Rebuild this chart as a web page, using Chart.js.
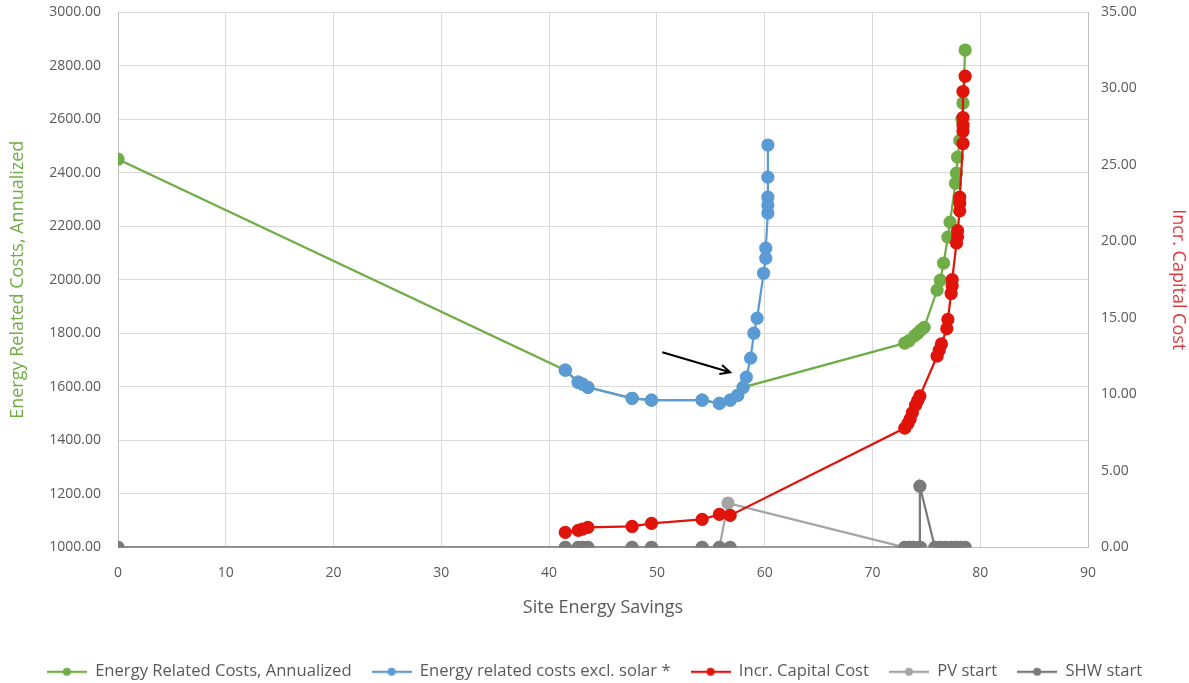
<!DOCTYPE html>
<html>
<head>
<meta charset="utf-8">
<script src="https://cdn.jsdelivr.net/npm/chart.js@4.4.1/dist/chart.umd.min.js"></script>
<style>
  html, body { margin: 0; padding: 0; background: #fff; }
  #wrap { width: 1189px; height: 683px; }
</style>
</head>
<body>
<div id="wrap"><canvas id="costChart"></canvas></div>
<script>
// Energy Related Costs, Annualized (left axis)
const greenX = [0, 41.5, 42.7, 43.1, 43.6, 47.7, 49.5, 54.2, 55.8, 56.8, 57.5, 58.0,
  73.0, 73.4, 73.9, 74.2, 74.5, 74.8, 76.0, 76.3, 76.6, 77.0, 77.2, 77.7, 77.8, 77.9, 78.1, 78.3, 78.4, 78.6];
const greenY = [2450, 1662, 1617, 1610, 1598, 1557, 1550, 1550, 1538, 1550, 1568, 1598,
  1763, 1772, 1790, 1800, 1812, 1822, 1961, 1998, 2062, 2159, 2215, 2360, 2398, 2458, 2520, 2600, 2660, 2858];

// Energy related costs excl. solar * (left axis)
const blueX = [41.5, 42.7, 43.1, 43.6, 47.7, 49.5, 54.2, 55.8, 56.8, 57.5, 58.0, 58.3, 58.7,
  59.0, 59.3, 59.9, 60.1, 60.1, 60.3, 60.3, 60.3, 60.3, 60.3];
const blueY = [1662, 1617, 1610, 1598, 1557, 1550, 1550, 1538, 1550, 1568, 1598, 1636, 1707,
  1800, 1856, 2024, 2080, 2118, 2249, 2279, 2308, 2383, 2503];

// Incr. Capital Cost (right axis)
const redX = [41.5, 42.7, 43.1, 43.6, 47.7, 49.5, 54.2, 55.8, 56.8,
  73.0, 73.3, 73.5, 73.7, 74.0, 74.2, 74.4, 76.0, 76.2, 76.4, 76.9, 77.0, 77.3, 77.4, 77.4,
  77.8, 77.9, 77.9, 78.1, 78.1, 78.1, 78.4, 78.4, 78.4, 78.4, 78.4, 78.6];
const redY = [0.98, 1.11, 1.2, 1.31, 1.37, 1.57, 1.83, 2.16, 2.09,
  7.8, 8.1, 8.4, 8.8, 9.3, 9.6, 9.9, 12.5, 12.9, 13.3, 14.3, 14.9, 16.6, 17.1, 17.5,
  19.9, 20.3, 20.7, 22.0, 22.5, 22.9, 26.4, 27.2, 27.6, 28.1, 29.8, 30.8];

// PV start (right axis)
const pvX = [0, 41.5, 42.7, 43.1, 43.6, 47.7, 49.5, 54.2, 55.8, 56.6,
  73.0, 73.4, 73.8, 74.2, 74.5, 75.8, 76.3, 76.8, 77.3, 77.8, 78.2, 78.6];
const pvY = [0, 0, 0, 0, 0, 0, 0, 0, 0, 2.9,
  0, 0, 0, 0, 0, 0, 0, 0, 0, 0, 0, 0];

// SHW start (right axis)
const shwX = [0, 41.5, 42.7, 43.1, 43.6, 47.7, 49.5, 54.2, 55.8, 56.8,
  73.0, 73.4, 73.8, 74.4, 74.4, 75.8, 76.3, 76.8, 77.3, 77.8, 78.2, 78.6];
const shwY = [0, 0, 0, 0, 0, 0, 0, 0, 0, 0,
  0, 0, 0, 0, 4.0, 0, 0, 0, 0, 0, 0, 0];

// arrow note, in data units
const arrowFrom = [50.5, 1729];
const arrowTo = [56.8, 1654];

const FONT = "'Open Sans', sans-serif";
const TXT = '#595959';
const GRID = '#d9d9d9';

function pts(xs, ys) {
  return xs.map((x, i) => ({x: x, y: ys[i]}));
}

function series(label, xs, ys, color, axis, order) {
  return {
    label: label,
    data: pts(xs, ys),
    borderColor: color,
    backgroundColor: color,
    pointBackgroundColor: color,
    pointBorderColor: color,
    borderWidth: 2.25,
    pointRadius: 5.5,
    pointHoverRadius: 5.5,
    yAxisID: axis,
    order: order,
    tension: 0
  };
}

// legend marker: short line with a dot
function legendIcon(color) {
  const c = document.createElement('canvas');
  c.width = 40; c.height = 12;
  const g = c.getContext('2d');
  g.strokeStyle = color;
  g.lineWidth = 2.25;
  g.beginPath(); g.moveTo(0, 6); g.lineTo(40, 6); g.stroke();
  g.fillStyle = color;
  g.beginPath(); g.arc(20, 6, 4, 0, Math.PI * 2); g.fill();
  return c;
}

const arrowPlugin = {
  id: 'arrowNote',
  afterDatasetsDraw(chart) {
    const x = chart.scales.x, y = chart.scales.y;
    const x1 = x.getPixelForValue(arrowFrom[0]), y1 = y.getPixelForValue(arrowFrom[1]);
    const x2 = x.getPixelForValue(arrowTo[0]), y2 = y.getPixelForValue(arrowTo[1]);
    const a = Math.atan2(y2 - y1, x2 - x1);
    const ctx = chart.ctx;
    ctx.save();
    ctx.strokeStyle = '#000';
    ctx.lineWidth = 2;
    ctx.beginPath();
    ctx.moveTo(x1, y1); ctx.lineTo(x2, y2);
    ctx.moveTo(x2 - 11 * Math.cos(a - 0.45), y2 - 11 * Math.sin(a - 0.45));
    ctx.lineTo(x2, y2);
    ctx.lineTo(x2 - 11 * Math.cos(a + 0.45), y2 - 11 * Math.sin(a + 0.45));
    ctx.stroke();
    ctx.restore();
  }
};

const colors = ['#70ad47', '#5b9bd5', '#e0140a', '#a5a5a5', '#7a7a7a'];

new Chart(document.getElementById('costChart'), {
  type: 'line',
  data: {
    datasets: [
      series('Energy Related Costs, Annualized', greenX, greenY, colors[0], 'y', 3),
      series('Energy related costs excl. solar *', blueX, blueY, colors[1], 'y', 2),
      series('Incr. Capital Cost', redX, redY, colors[2], 'y1', 1),
      series('PV start', pvX, pvY, colors[3], 'y1', 5),
      series('SHW start', shwX, shwY, colors[4], 'y1', 4)
    ]
  },
  options: {
    responsive: true,
    maintainAspectRatio: false,
    animation: false,
    layout: { padding: { top: 12, left: 0, right: 0, bottom: -7 } },
    scales: {
      x: {
        type: 'linear',
        min: 0, max: 90,
        ticks: { stepSize: 10, color: TXT, font: { family: FONT, size: 14 }, padding: 17 },
        grid: { color: GRID, drawTicks: false },
        border: { color: '#bfbfbf' },
        title: { display: true, text: 'Site Energy Savings', color: TXT,
          font: { family: FONT, size: 18 }, padding: { top: 0, bottom: 25 } },
        afterFit(scale) { scale.height = 96; }
      },
      y: {
        position: 'left',
        min: 1000, max: 3000,
        ticks: { stepSize: 200, color: TXT, font: { family: FONT, size: 14 }, padding: 0,
          callback: v => v.toFixed(2) },
        grid: { color: GRID, drawTicks: true, tickLength: 17, tickColor: 'rgba(0,0,0,0)' },
        border: { color: '#bfbfbf' },
        title: { display: true, text: 'Energy Related Costs, Annualized', color: '#70ad47',
          font: { family: FONT, size: 18 }, padding: { top: 7, bottom: 0 } },
        afterFit(scale) { scale.width = 118; }
      },
      y1: {
        position: 'right',
        min: 0, max: 35,
        ticks: { stepSize: 5, color: TXT, font: { family: FONT, size: 14 }, padding: 0,
          callback: v => v.toFixed(2) },
        grid: { drawOnChartArea: false, drawTicks: true, tickLength: 13, tickColor: 'rgba(0,0,0,0)' },
        border: { color: '#bfbfbf' },
        title: { display: true, text: 'Incr. Capital Cost', color: '#e0393e',
          font: { family: FONT, size: 18 }, padding: { top: 0, bottom: 0 } },
        afterFit(scale) { scale.width = 101; }
      }
    },
    plugins: {
      legend: {
        display: true,
        position: 'bottom',
        labels: {
          color: TXT,
          font: { family: FONT, size: 16.6 },
          usePointStyle: true,
          pointStyleWidth: 40,
          padding: 20,
          sort: (a, b) => a.datasetIndex - b.datasetIndex,
          generateLabels(chart) {
            const items = Chart.defaults.plugins.legend.labels.generateLabels(chart);
            items.forEach(it => { it.pointStyle = legendIcon(colors[it.datasetIndex]); });
            return items;
          }
        }
      },
      tooltip: { enabled: false }
    }
  },
  plugins: [arrowPlugin]
});
</script>
</body>
</html>
